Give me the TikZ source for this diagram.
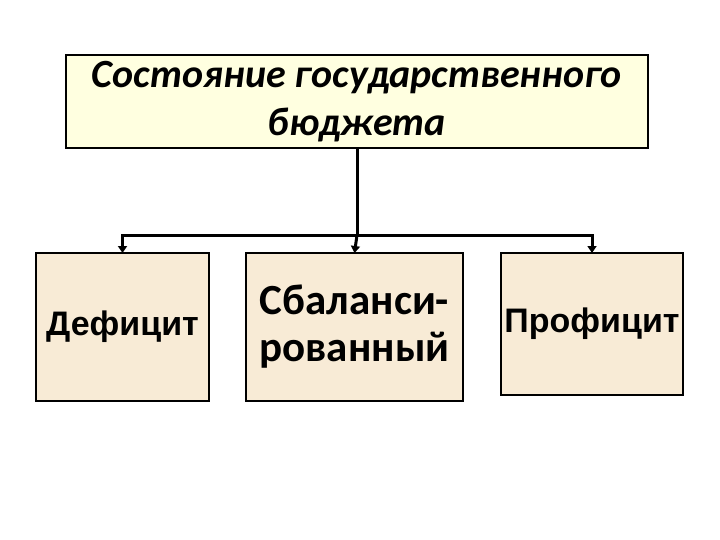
\documentclass[tikz,border=0pt]{standalone}
\usepackage{fontspec}
\setmainfont{Carlito}
\newfontfamily\arialb{Liberation Sans}
\usetikzlibrary{arrows.meta}
\definecolor{topfill}{HTML}{FFFFE0}
\definecolor{boxfill}{HTML}{F8EBD6}
\tikzset{
  every node/.style={inner sep=0pt, outer sep=0pt},
  topbox/.style={draw=black, line width=1.5pt, fill=topfill, minimum width=582pt, minimum height=93pt, align=center,
    font=\fontsize{40}{48}\selectfont\bfseries\itshape},
  subbox/.style={draw=black, line width=1.5pt, fill=boxfill, minimum height=148pt, align=center},
  arialtext/.style={font=\fontsize{34}{40}\selectfont\arialb\bfseries},
  caltext/.style={font=\fontsize{43}{47}\selectfont\bfseries},
  conn/.style={line width=3pt},
  arr/.style={line width=3pt, -{Triangle[length=7pt,width=9pt]}}
}
\begin{document}
\begin{tikzpicture}[x=1pt,y=1pt]
\useasboundingbox (0,0) rectangle (720,-540);
\node[topbox] (top) at (357,-101.5) {Состояние государственного\\ бюджета};
\node[subbox, arialtext, minimum width=173pt] (def) at (122.5,-327) {Дефицит};
\node[subbox, caltext, minimum width=217pt] (bal) at (354.5,-327) {Сбаланси-\\рованный};
\node[subbox, arialtext, minimum width=182pt, minimum height=142pt] (prof) at (592,-324) {Профицит};
\coordinate (j) at (top.south |- 0,-235);
\draw[conn] (top.south) -- (j);
\draw[arr] (j) -| (def.north);
\draw[arr] (j) -- (bal.north);
\draw[arr] (j) -| (prof.north);
\end{tikzpicture}
\end{document}
